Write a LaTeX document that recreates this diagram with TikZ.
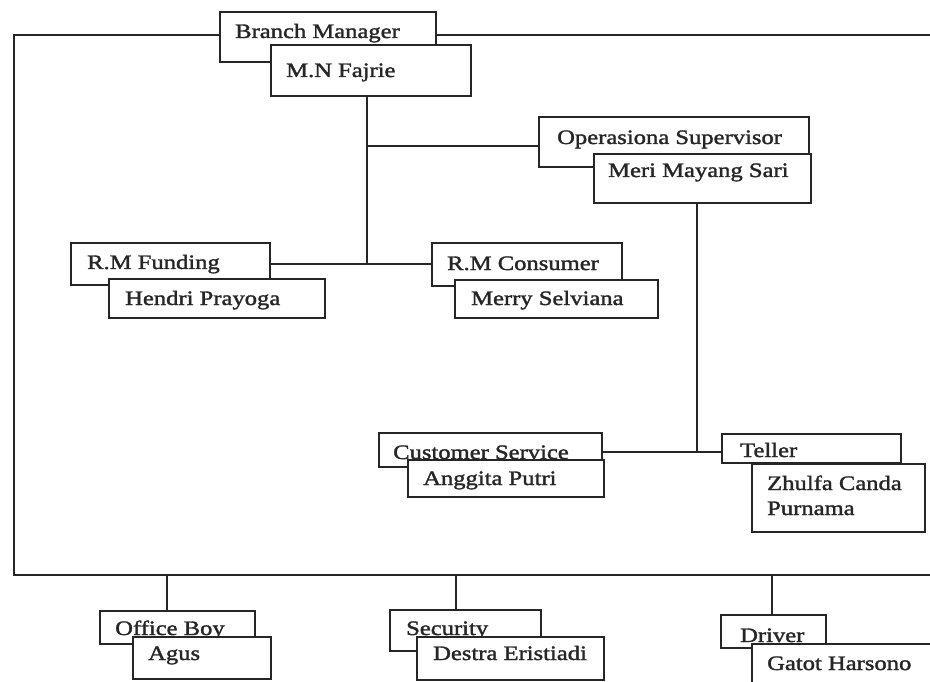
\documentclass[tikz,border=0pt]{standalone}
\usepackage{fontspec}
\usetikzlibrary{backgrounds}
\newfontfamily\orgfont[FakeStretch=1.2,FakeBold=1.6]{Liberation Serif}
\definecolor{inkc}{HTML}{262626}
\tikzset{
  ln/.style={line width=1.5pt, draw=inkc},
  obox/.style={rectangle, draw=inkc, line width=1.5pt, fill=white, anchor=north west, inner sep=0pt, outer sep=0pt},
  lbl/.style={anchor=base west, inner sep=0pt, text=inkc, font=\orgfont\fontsize{20.5}{25}\selectfont},
}
\begin{document}
\begin{tikzpicture}[x=1pt,y=-1pt]
\clip (0,0) rectangle (930,682);
% boxes
\node[obox, minimum width=216pt, minimum height=50pt] (bm) at (220,12) {};
\node[lbl] (bmt) at (235,38) {Branch Manager};
\node[obox, minimum width=200pt, minimum height=51pt] (mn) at (271,45) {};
\node[lbl] (mnt) at (286,77) {M.N Fajrie};

\node[obox, minimum width=270pt, minimum height=50pt] (os) at (539,117) {};
\node[lbl] (ost) at (557,144) {Operasiona Supervisor};
\node[obox, minimum width=217pt, minimum height=49pt] (ms) at (594,154) {};
\node[lbl] (mst) at (608,177) {Meri Mayang Sari};

\node[obox, minimum width=199pt, minimum height=42pt] (rmf) at (71,243) {};
\node[lbl] (rmft) at (87,269) {R.M Funding};
\node[obox, minimum width=216pt, minimum height=39pt] (hp) at (109,279) {};
\node[lbl] (hpt) at (125,305) {Hendri Prayoga};

\node[obox, minimum width=190pt, minimum height=43pt] (rmc) at (432,243) {};
\node[lbl] (rmct) at (447,270) {R.M Consumer};
\node[obox, minimum width=203pt, minimum height=38pt] (msv) at (455,280) {};
\node[lbl] (msvt) at (471,305) {Merry Selviana};

\node[obox, minimum width=223pt, minimum height=34pt] (cs) at (379,433) {};
\node[lbl] (cst) at (393,459) {Customer Service};
\node[obox, minimum width=196pt, minimum height=37pt] (ap) at (408,460) {};
\node[lbl] (apt) at (423,485) {Anggita Putri};

\node[obox, minimum width=179pt, minimum height=29pt] (tl) at (722,434) {};
\node[lbl] (tlt) at (740,457) {Teller};
\node[obox, minimum width=173pt, minimum height=68pt] (zc) at (752,464) {};
\node[lbl] (zct1) at (767,490) {Zhulfa Canda};
\node[lbl] (zct2) at (767,515) {Purnama};

\node[obox, minimum width=155pt, minimum height=33pt] (ob) at (100,611) {};
\node[lbl] (obt) at (115,635) {Office Boy};
\node[obox, minimum width=138pt, minimum height=42pt] (ag) at (133,637) {};
\node[lbl] (agt) at (148,660) {Agus};

\node[obox, minimum width=151pt, minimum height=41pt] (sc) at (390,610) {};
\node[lbl] (sct) at (406,635) {Security};
\node[obox, minimum width=187pt, minimum height=43pt] (de) at (417,637) {};
\node[lbl] (det) at (433,660) {Destra Eristiadi};

\node[obox, minimum width=105pt, minimum height=33pt] (dr) at (721,615) {};
\node[lbl] (drt) at (740,642) {Driver};
\node[obox, minimum width=208pt, minimum height=56pt] (gh) at (752,644) {};
\node[lbl] (ght) at (767,670) {Gatot Harsono};

% connector helper coordinates
\coordinate (ftl) at (14,35);
\coordinate (ftr) at (935,35);
\coordinate (fbl) at (14,575);
\coordinate (fbr) at (935,575);
\coordinate (jos) at (367,146);
\coordinate (jrm) at (367,264);
\coordinate (jt) at (697,452);
\coordinate (job) at (167,575);
\coordinate (jsc) at (456,575);
\coordinate (jdr) at (772,575);

\begin{scope}[on background layer]
\fill[white] (0,0) rectangle (930,682);
% frame
\draw[ln] (ftr) -- (ftl) -- (fbl) -- (fbr);
% branch manager to staff
\draw[ln] (jos |- mn.south) -- (jrm);
\draw[ln] (jos) -- (os.west |- jos);
\draw[ln] (rmf.east |- jrm) -- (rmc.west |- jrm);
% operational supervisor
\draw[ln] (jt |- ms.south) -- (jt);
\draw[ln] (cs.east |- jt) -- (tl.west |- jt);
% bottom
\draw[ln] (job) -- (job |- ob.north);
\draw[ln] (jsc) -- (jsc |- sc.north);
\draw[ln] (jdr) -- (jdr |- dr.north);
\end{scope}
\end{tikzpicture}
\end{document}
